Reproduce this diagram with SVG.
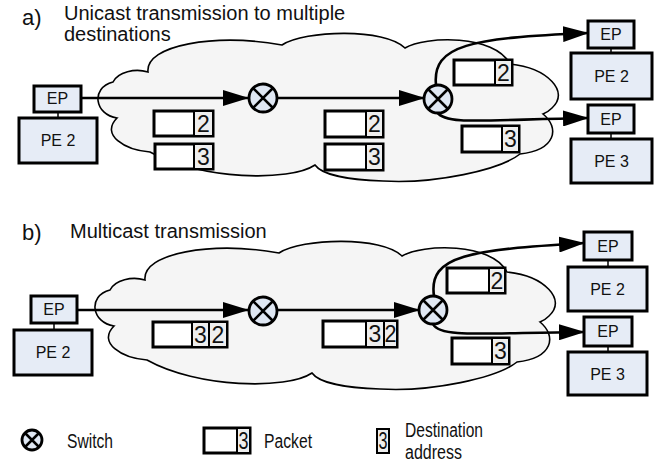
<svg xmlns="http://www.w3.org/2000/svg" width="670" height="466" viewBox="0 0 670 466">
<defs>
<style>
text{font-family:"Liberation Sans",Arial,sans-serif;fill:#111}
.title{font-size:20px}
.lbl{font-size:22px}
.box{fill:#e6ecf6;stroke:#000;stroke-width:3}
.tie{stroke:#000;stroke-width:1.5}
.bt{font-size:16px;text-anchor:middle}
.sw{fill:#dfe7f3;stroke:#000;stroke-width:2.8}
.swx{stroke:#000;stroke-width:2.5}
.pk{fill:#fff;stroke:#000;stroke-width:3}
.ad{fill:#eeeeee;stroke:#000;stroke-width:2}
.dg{font-size:23px;text-anchor:middle}
.cloud{fill:#f5f5f5;stroke:#000;stroke-width:1.6}
.ln{fill:none;stroke:#000;stroke-width:2.6;marker-end:url(#ah)}
.lg{font-size:20px}
</style>
<marker id="ah" viewBox="0 0 26 16" refX="25" refY="8" markerWidth="26" markerHeight="16" markerUnits="userSpaceOnUse" orient="auto"><path d="M0,0 L26,8 L0,16 Z" fill="#000"/></marker>
<path id="cloudA" d="M117,118 C95,115 90,88 113,82 C118,72 135,68 148,72 C145,45 215,33 282,45 C305,30 385,28 405,48 C425,36 495,34 510,64 C548,68 570,92 552,108 C549,111 546,113 543,114 C560,128 556,150 520,154 C500,170 435,184 383,181 C350,180 322,175 315,165 C290,182 200,180 150,152 C125,150 100,135 117,118 Z"/>
</defs>

<!-- Titles -->
<text class="lbl" x="22" y="25">a)</text>
<text class="title" x="64" y="20">Unicast transmission to multiple</text>
<text class="title" x="64" y="41">destinations</text>
<text class="lbl" x="22" y="240">b)</text>
<text class="title" x="70" y="238">Multicast transmission</text>

<!-- Clouds -->
<use href="#cloudA" class="cloud"/>
<use href="#cloudA" class="cloud" transform="translate(-3,208)"/>

<!-- Connectors -->
<g id="connectors">
<path class="ln" d="M81,98 L248,98"/>
<path class="ln" d="M277,98 L424,98"/>
<path class="ln" d="M436,85 C432,45 470,38 588,33"/>
<path class="ln" d="M437,112 C445,125 480,120 588,118"/>
<path class="ln" d="M77,310 L248,310"/>
<path class="ln" d="M277,310 L419,310"/>
<path class="ln" d="M434,296 C428,255 470,250 584,243"/>
<path class="ln" d="M433,324 C440,338 480,333 584,332"/>
</g>

<!-- Part a nodes -->
<g id="a-src">
<line class="tie" x1="58" y1="112" x2="58" y2="118"/>
<rect class="box" x="34" y="86" width="47" height="26"/><text class="bt" x="57.5" y="104">EP</text>
<rect class="box" x="19" y="118" width="78" height="45"/><text class="bt" x="58" y="146">PE 2</text>
</g>
<g id="a-dst2">
<line class="tie" x1="611" y1="48" x2="611" y2="53"/>
<rect class="box" x="588" y="21" width="46" height="27"/><text class="bt" x="611" y="40">EP</text>
<rect class="box" x="571" y="53" width="81" height="46"/><text class="bt" x="611.5" y="82">PE 2</text>
</g>
<g id="a-dst3">
<line class="tie" x1="611" y1="133" x2="611" y2="139"/>
<rect class="box" x="588" y="105" width="46" height="28"/><text class="bt" x="611" y="125">EP</text>
<rect class="box" x="571" y="139" width="81" height="44"/><text class="bt" x="611.5" y="167">PE 3</text>
</g>
<g id="a-sw1">
<circle class="sw" cx="263" cy="98" r="14"/>
<path class="swx" d="M253,88 L273,108 M273,88 L253,108"/>
</g>
<g id="a-sw2">
<circle class="sw" cx="438" cy="99" r="14"/>
<path class="swx" d="M428,89 L448,109 M448,89 L428,109"/>
</g>
<g id="a-p1"><rect class="pk" x="154" y="111" width="59" height="25"/><rect class="ad" x="194" y="111" width="19" height="25"/><text class="dg" x="203.5" y="132">2</text></g>
<g id="a-p2"><rect class="pk" x="155" y="144" width="58" height="25"/><rect class="ad" x="194" y="144" width="19" height="25"/><text class="dg" x="203.5" y="165">3</text></g>
<g id="a-p3"><rect class="pk" x="325" y="111" width="58" height="26"/><rect class="ad" x="366" y="111" width="17" height="26"/><text class="dg" x="374.5" y="132">2</text></g>
<g id="a-p4"><rect class="pk" x="325" y="144" width="58" height="26"/><rect class="ad" x="366" y="144" width="17" height="26"/><text class="dg" x="374.5" y="165">3</text></g>
<g id="a-p5"><rect class="pk" x="454" y="60" width="58" height="25"/><rect class="ad" x="495" y="60" width="17" height="25"/><text class="dg" x="503.5" y="81">2</text></g>
<g id="a-p6"><rect class="pk" x="462" y="126" width="57" height="26"/><rect class="ad" x="502" y="126" width="17" height="26"/><text class="dg" x="510.5" y="147">3</text></g>

<!-- Part b nodes -->
<g id="b-src">
<line class="tie" x1="54" y1="323" x2="54" y2="330"/>
<rect class="box" x="31" y="296" width="46" height="27"/><text class="bt" x="54" y="315">EP</text>
<rect class="box" x="14" y="330" width="78" height="45"/><text class="bt" x="53" y="358">PE 2</text>
</g>
<g id="b-dst2">
<line class="tie" x1="608" y1="260" x2="608" y2="267"/>
<rect class="box" x="584" y="232" width="48" height="28"/><text class="bt" x="608" y="252">EP</text>
<rect class="box" x="568" y="267" width="79" height="44"/><text class="bt" x="607.5" y="295">PE 2</text>
</g>
<g id="b-dst3">
<line class="tie" x1="608" y1="346" x2="608" y2="352"/>
<rect class="box" x="584" y="317" width="48" height="29"/><text class="bt" x="608" y="337">EP</text>
<rect class="box" x="568" y="352" width="79" height="43"/><text class="bt" x="607.5" y="380">PE 3</text>
</g>
<g id="b-sw1">
<circle class="sw" cx="263" cy="311" r="14"/>
<path class="swx" d="M253,301 L273,321 M273,301 L253,321"/>
</g>
<g id="b-sw2">
<circle class="sw" cx="433" cy="310" r="14"/>
<path class="swx" d="M423,300 L443,320 M443,300 L423,320"/>
</g>
<g id="b-p1"><rect class="pk" x="153" y="322" width="74" height="25"/><rect class="ad" x="192" y="322" width="17" height="25"/><rect class="ad" x="209" y="322" width="18" height="25"/><text class="dg" x="200.5" y="343">3</text><text class="dg" x="218" y="343">2</text></g>
<g id="b-p2"><rect class="pk" x="323" y="321" width="74" height="26"/><rect class="ad" x="366" y="321" width="18" height="26"/><rect class="ad" x="384" y="321" width="13" height="26"/><text class="dg" x="375" y="342">3</text><text class="dg" x="390.5" y="342" textLength="12" lengthAdjust="spacingAndGlyphs">2</text></g>
<g id="b-p3"><rect class="pk" x="447" y="268" width="58" height="25"/><rect class="ad" x="489" y="268" width="16" height="25"/><text class="dg" x="497" y="289">2</text></g>
<g id="b-p4"><rect class="pk" x="452" y="338" width="57" height="26"/><rect class="ad" x="492" y="338" width="17" height="26"/><text class="dg" x="500.5" y="359">3</text></g>

<!-- Legend -->
<g id="legend-switch">
<circle class="sw" cx="32" cy="440" r="10" stroke-width="3"/>
<path class="swx" d="M25,433 L39,447 M39,433 L25,447" stroke-width="2.5"/>
<text class="lg" x="67" y="448" textLength="46" lengthAdjust="spacingAndGlyphs">Switch</text>
</g>
<g id="legend-packet">
<rect class="pk" x="204" y="428" width="46" height="25"/><rect class="ad" x="237" y="428" width="13" height="25"/>
<text class="dg" x="243.5" y="449" textLength="10" lengthAdjust="spacingAndGlyphs">3</text>
<text class="lg" x="264" y="448" textLength="48" lengthAdjust="spacingAndGlyphs">Packet</text>
</g>
<g id="legend-address">
<rect class="ad" x="377" y="429" width="12" height="24" stroke-width="2.5"/>
<text class="dg" x="383" y="449" textLength="9" lengthAdjust="spacingAndGlyphs">3</text>
<text class="lg" x="405" y="437" textLength="78" lengthAdjust="spacingAndGlyphs">Destination</text>
<text class="lg" x="405" y="459" textLength="57" lengthAdjust="spacingAndGlyphs">address</text>
</g>
</svg>
